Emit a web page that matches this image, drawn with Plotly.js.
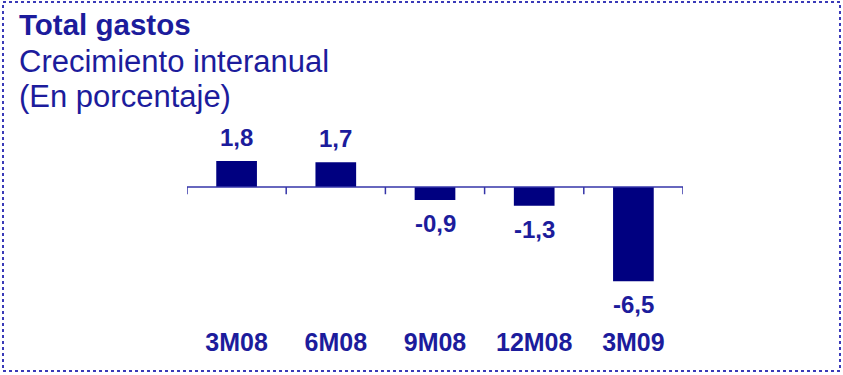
<!DOCTYPE html>
<html>
<head>
<meta charset="utf-8">
<script src="https://cdn.plot.ly/plotly-3.0.1.min.js"></script>
<style>html,body{margin:0;padding:0;background:#fff;}#chart{width:843px;height:375px;}</style>
</head>
<body>
<div id="chart"></div>
<script>
const categories = ["3M08", "6M08", "9M08", "12M08", "3M09"];
const values = [1.8, 1.7, -0.9, -1.3, -6.5];
const valueLabels = ["1,8", "1,7", "-0,9", "-1,3", "-6,5"];
const titleLines = ["Total gastos", "Crecimiento interanual", "(En porcentaje)"];

const textColor = "#1c1c9c";
const barColor = "#000080";
const axisColor = "#3535a8";
const FONT = "Liberation Sans, Arial, sans-serif";

// plot area geometry helpers (pixel -> paper)
const L = 187, R = 683, T = 130, B = 325;
const px2x = p => (p - L) / (R - L);
const py2y = p => (B - p) / (B - T);

const annotations = [];
values.forEach((v, i) => {
  annotations.push({
    x: categories[i], y: v, xref: "x", yref: "y",
    text: "<b>" + valueLabels[i] + "</b>", showarrow: false,
    yanchor: v >= 0 ? "bottom" : "top",
    yshift: v >= 0 ? 8 : -8,
    font: {family: FONT, size: 24, color: textColor}
  });
});
const titleY = [25, 62, 96];
const titleSize = [29.5, 31, 31];
titleLines.forEach((t, i) => {
  annotations.push({
    x: px2x(17), y: py2y(titleY[i]), xref: "paper", yref: "paper",
    xanchor: "left", yanchor: "middle", showarrow: false,
    text: i === 0 ? "<b>" + t + "</b>" : t,
    font: {family: FONT, size: titleSize[i], color: textColor}
  });
});

const shapes = [];
// zero axis line
shapes.push({type: "line", xref: "x", yref: "y", x0: -0.5, x1: categories.length - 0.5, y0: 0, y1: 0,
  line: {color: axisColor, width: 1.5}});
// tick marks at category boundaries
for (let i = 0; i <= categories.length; i++) {
  shapes.push({type: "line", xref: "x", yref: "y", x0: i - 0.5, x1: i - 0.5, y0: 0, y1: -0.5,
    line: {color: axisColor, width: 1.5}});
}
// dotted frame
shapes.push({type: "rect", xref: "paper", yref: "paper",
  x0: px2x(3), x1: px2x(840), y0: py2y(371), y1: py2y(2),
  line: {color: "#3a3ab8", width: 2, dash: "dot"}});

const data = [{
  type: "bar", x: categories, y: values, width: 0.41,
  marker: {color: barColor, line: {width: 0}},
  hoverinfo: "skip"
}];

const layout = {
  width: 843, height: 375,
  margin: {l: L, r: 843 - R, t: T, b: 375 - B, pad: 0},
  paper_bgcolor: "#fff", plot_bgcolor: "#fff",
  showlegend: false,
  xaxis: {type: "category", range: [-0.5, categories.length - 0.5], showline: false, showgrid: false,
    zeroline: false, ticks: "", ticklabelstandoff: 0,
    tickfont: {family: FONT, size: 25, color: textColor, weight: "bold"}},
  yaxis: {range: [-(B - 187) / 14.5, (187 - T) / 14.5], showgrid: false, zeroline: false,
    showline: false, showticklabels: false, ticks: ""},
  annotations: annotations,
  shapes: shapes
};

Plotly.newPlot("chart", data, layout, {displayModeBar: false, staticPlot: true});
</script>
</body>
</html>
